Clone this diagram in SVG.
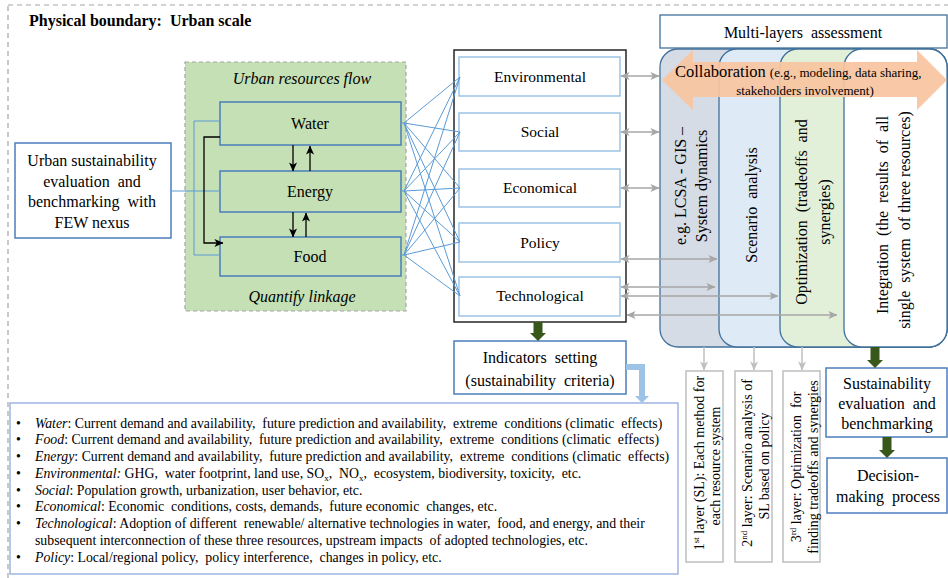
<svg xmlns="http://www.w3.org/2000/svg" width="948" height="578" viewBox="0 0 948 578" font-family="Liberation Serif, DejaVu Serif, serif">
<style>
text{font-family:"Liberation Serif","DejaVu Serif",serif;fill:#000}
.c{text-anchor:middle}
.res{fill:#c5e0b4;stroke:#4a7ebb;stroke-width:1.5}
.bb{fill:#fff;stroke:#4a7ebb;stroke-width:1.5}
.ind{fill:#fff;stroke:#9dc3e6;stroke-width:1.5}
.fan{stroke:#5b9bd5;stroke-width:1;fill:none}
.gr{stroke:#a6a6a6;stroke-width:1.5;fill:none}
.lay{stroke:#41719c;stroke-width:1.3}
.desc{fill:#fff;stroke:#bfbfbf;stroke-width:1.5}
.dg{fill:#38571a}
</style>
<defs>
<marker id="ga" viewBox="0 0 10 10" refX="9.5" refY="5" markerWidth="9" markerHeight="9" markerUnits="userSpaceOnUse" orient="auto-start-reverse"><path d="M0,0.5 L10,5 L0,9.5 L2.5,5 z" fill="#a6a6a6"/></marker>
<marker id="la" viewBox="0 0 10 10" refX="9.5" refY="5" markerWidth="9" markerHeight="9" markerUnits="userSpaceOnUse" orient="auto"><path d="M0,0.5 L10,5 L0,9.5 L2.5,5 z" fill="#bfbfbf"/></marker>
<marker id="ba" viewBox="0 0 10 10" refX="9.5" refY="5" markerWidth="9" markerHeight="9" markerUnits="userSpaceOnUse" orient="auto"><path d="M0,0.5 L10,5 L0,9.5 L2.5,5 z" fill="#000"/></marker>
</defs>

<!-- outer physical boundary -->
<rect x="8" y="5" width="960" height="600" fill="none" stroke="#a6a6a6" stroke-width="1.2" stroke-dasharray="5,4"/>
<text x="29" y="26" font-size="16" font-weight="bold" xml:space="preserve">Physical boundary:  Urban scale</text>

<!-- green flow box -->
<g id="flow">
<rect x="185" y="62" width="221" height="249" fill="#c5e0b4" stroke="#a5a5a5" stroke-width="1.2" stroke-dasharray="4,3"/>
<text x="302" y="84" class="c" font-size="16" font-style="italic">Urban resources flow</text>
<text x="302" y="302" class="c" font-size="16" font-style="italic">Quantify linkage</text>
</g>

<g id="source">
<rect class="bb" x="15" y="143" width="156" height="95"/>
<text class="c" font-size="16" xml:space="preserve"><tspan x="92" y="166">Urban sustainability</tspan><tspan x="92" y="187">evaluation  and</tspan><tspan x="92" y="207">benchmarking  with</tspan><tspan x="92" y="228">FEW nexus</tspan></text>
</g>

<g id="water"><rect class="res" x="220" y="102" width="181" height="43"/><text x="310" y="129" class="c" font-size="16">Water</text></g>
<g id="energy"><rect class="res" x="220" y="171" width="181" height="41"/><text x="310" y="197" class="c" font-size="16">Energy</text></g>
<g id="food"><rect class="res" x="220" y="237" width="181" height="39"/><text x="310" y="262" class="c" font-size="16">Food</text></g>

<g id="indicators">
<rect x="454" y="50" width="172" height="272" fill="#fff" stroke="#262626" stroke-width="1.5"/>
</g>
<g id="ind-env"><rect class="ind" x="459" y="57" width="161" height="39"/><text x="540" y="82" class="c" font-size="15.5">Environmental</text></g>
<g id="ind-soc"><rect class="ind" x="459" y="113" width="161" height="38"/><text x="540" y="137" class="c" font-size="15.5">Social</text></g>
<g id="ind-eco"><rect class="ind" x="459" y="169" width="161" height="38"/><text x="540" y="193" class="c" font-size="15.5">Economical</text></g>
<g id="ind-pol"><rect class="ind" x="459" y="223" width="161" height="39"/><text x="540" y="248" class="c" font-size="15.5">Policy</text></g>
<g id="ind-tec"><rect class="ind" x="459" y="277" width="161" height="39"/><text x="540" y="301" class="c" font-size="15.5">Technological</text></g>

<g id="setting">
<rect class="bb" x="454" y="341" width="172" height="53"/>
<text class="c" font-size="16" xml:space="preserve"><tspan x="540" y="363">Indicators  setting</tspan><tspan x="540" y="386">(sustainability  criteria)</tspan></text>
</g>

<!-- layers -->
<g id="layer1"><rect class="lay" x="660" y="49" width="287" height="298" rx="18" fill="#d6dce5"/></g>
<g id="layer2"><rect class="lay" x="719" y="49" width="228" height="298" rx="18" fill="#deebf7"/></g>
<g id="layer3"><rect class="lay" x="780" y="49" width="167" height="298" rx="18" fill="#e2f0d9"/></g>
<g id="layer4"><rect class="lay" x="844" y="49" width="103" height="298" rx="18" fill="#fff"/></g>

<g id="multi">
<rect x="660" y="15" width="287" height="33" fill="#fff" stroke="#41719c" stroke-width="1.3"/>
<text x="803" y="38" class="c" font-size="16" xml:space="preserve">Multi-layers  assessment</text>
</g>

<g id="collab">
<polygon points="662,80 693,50 693,62 917,62 917,50 947,80 917,110 917,97 693,97 693,110" fill="#f8c4a0" fill-opacity="0.92"/>
<text x="675" y="77" font-size="16.5">Collaboration <tspan font-size="13">(e.g., modeling, data sharing,</tspan></text>
<text x="805" y="95" class="c" font-size="13">stakeholders involvement)</text>
</g>

<g id="layer-texts" font-size="16">
<text class="c" transform="translate(681,186) rotate(-90)" dy="0.34em">e.g. LCSA - GIS –</text>
<text class="c" transform="translate(702,186) rotate(-90)" dy="0.34em">System dynamics</text>
<text class="c" transform="translate(752,205) rotate(-90)" dy="0.34em" xml:space="preserve">Scenario  analysis</text>
<text class="c" transform="translate(802,212) rotate(-90)" dy="0.34em" xml:space="preserve">Optimization  (tradeoffs  and</text>
<text class="c" transform="translate(825,212) rotate(-90)" dy="0.34em">synergies)</text>
<text class="c" transform="translate(883,215) rotate(-90)" dy="0.34em" xml:space="preserve">Integration  (the  results  of  all</text>
<text class="c" transform="translate(905,220) rotate(-90)" dy="0.34em" xml:space="preserve">single  system  of three resources)</text>
</g>

<g id="desc1"><rect class="desc" x="686" y="371" width="37" height="191"/>
<text class="c" font-size="14" transform="translate(699,463) rotate(-90)" dy="0.34em">1<tspan font-size="9" dy="-5">st</tspan><tspan dy="5"> layer (SL): Each method for</tspan></text>
<text class="c" font-size="14" transform="translate(715,466) rotate(-90)" dy="0.34em">each resource system</text></g>
<g id="desc2"><rect class="desc" x="735" y="371" width="37" height="191"/>
<text class="c" font-size="14" transform="translate(747,463) rotate(-90)" dy="0.34em">2<tspan font-size="9" dy="-5">nd</tspan><tspan dy="5"> layer: Scenario analysis of</tspan></text>
<text class="c" font-size="14" transform="translate(764,466) rotate(-90)" dy="0.34em">SL based on policy</text></g>
<g id="desc3"><rect class="desc" x="783" y="371" width="37" height="191"/>
<text class="c" font-size="14" transform="translate(796,467) rotate(-90)" dy="0.34em" xml:space="preserve">3<tspan font-size="9" dy="-5">rd</tspan><tspan dy="5"> layer: Optimization  for</tspan></text>
<text class="c" font-size="14" transform="translate(813,467) rotate(-90)" dy="0.34em">finding tradeoffs and synergies</text></g>

<g id="sust">
<rect class="bb" x="826" y="368" width="121" height="69"/>
<text class="c" font-size="16" xml:space="preserve"><tspan x="887" y="389">Sustainability</tspan><tspan x="887" y="409">evaluation  and</tspan><tspan x="887" y="429">benchmarking</tspan></text>
</g>
<g id="decision">
<rect class="bb" x="827" y="458" width="120" height="55"/>
<text class="c" font-size="16" xml:space="preserve"><tspan x="888" y="481">Decision-</tspan><tspan x="888" y="502">making  process</tspan></text>
</g>

<g id="legend">
<rect x="10" y="403" width="668" height="171" fill="#fff" stroke="#8faadc" stroke-width="1.3"/>
<g font-size="13.8">
<text x="16" y="427.6">•</text><text x="16" y="444.4">•</text><text x="16" y="461.1">•</text><text x="16" y="477.9">•</text><text x="16" y="494.6">•</text><text x="16" y="511.4">•</text><text x="16" y="528.1">•</text><text x="16" y="561.6">•</text>
<text x="35" y="427.6" xml:space="preserve"><tspan font-style="italic">Water</tspan>: Current demand and availability,  future prediction and availability,  extreme  conditions (climatic  effects)</text>
<text x="35" y="444.4" xml:space="preserve"><tspan font-style="italic">Food</tspan>: Current demand and availability,  future prediction and availability,  extreme  conditions (climatic  effects)</text>
<text x="35" y="461.1" xml:space="preserve"><tspan font-style="italic">Energy</tspan>: Current demand and availability,  future prediction and availability,  extreme  conditions (climatic  effects)</text>
<text x="35" y="477.9" xml:space="preserve"><tspan font-style="italic">Environmental:</tspan> GHG,  water footprint, land use, SO<tspan font-size="9" dy="3">x</tspan><tspan dy="-3">,  NO</tspan><tspan font-size="9" dy="3">x</tspan><tspan dy="-3">,  ecosystem, biodiversity, toxicity,  etc.</tspan></text>
<text x="35" y="494.6"><tspan font-style="italic">Social</tspan>: Population growth, urbanization, user behavior, etc.</text>
<text x="35" y="511.4" xml:space="preserve"><tspan font-style="italic">Economical</tspan>: Economic  conditions, costs, demands,  future economic  changes, etc.</text>
<text x="35" y="528.1" xml:space="preserve"><tspan font-style="italic">Technological</tspan>: Adoption of different  renewable/ alternative technologies in water,  food, and energy, and their</text>
<text x="35" y="544.9" xml:space="preserve">subsequent interconnection of these three resources, upstream impacts  of adopted technologies, etc.</text>
<text x="35" y="561.6" xml:space="preserve"><tspan font-style="italic">Policy</tspan>: Local/regional policy,  policy interference,  changes in policy, etc.</text>
</g>
</g>

<g id="connectors">
<path class="fan" d="M171,191 H220"/>
<path class="fan" d="M220,121 H194 V255 H220"/>
<path d="M220,137 H204 V243 H223" fill="none" stroke="#000" stroke-width="1.3" marker-end="url(#ba)"/>
<path d="M293,145 V171" stroke="#000" stroke-width="1.3" marker-end="url(#ba)"/>
<path d="M310,171 V146" stroke="#000" stroke-width="1.3" marker-end="url(#ba)"/>
<path d="M293,212 V237" stroke="#000" stroke-width="1.3" marker-end="url(#ba)"/>
<path d="M306,237 V213" stroke="#000" stroke-width="1.3" marker-end="url(#ba)"/>
<g class="fan">
<path d="M401,123 H404 L460,77 M404,123 L460,132 M404,123 L460,188 M404,123 L460,242 M404,123 L460,296"/>
<path d="M401,191 H404 L460,77 M404,191 L460,132 M404,191 L460,188 M404,191 L460,242 M404,191 L460,296"/>
<path d="M401,255 H404 L460,77 M404,255 L460,132 M404,255 L460,188 M404,255 L460,242 M404,255 L460,296"/>
</g>
<path class="gr" d="M621,76 H659" marker-start="url(#ga)" marker-end="url(#ga)"/>
<path class="gr" d="M621,132 H659" marker-start="url(#ga)" marker-end="url(#ga)"/>
<path class="gr" d="M621,188 H659" marker-start="url(#ga)" marker-end="url(#ga)"/>
<path class="gr" d="M621,259 H717" marker-start="url(#ga)" marker-end="url(#ga)"/>
<path class="gr" d="M621,287 H715" marker-start="url(#ga)" marker-end="url(#ga)"/>
<path class="gr" d="M621,296 H778" marker-start="url(#ga)" marker-end="url(#ga)"/>
<path class="gr" d="M627,315 H837" marker-start="url(#ga)" marker-end="url(#ga)"/>
<path d="M704,347 V370" stroke="#bfbfbf" stroke-width="1.5" marker-end="url(#la)"/>
<path d="M754,347 V370" stroke="#bfbfbf" stroke-width="1.5" marker-end="url(#la)"/>
<path d="M802,347 V370" stroke="#bfbfbf" stroke-width="1.5" marker-end="url(#la)"/>
<polygon class="dg" points="533.5,322 542.5,322 542.5,333 546,333 538,341 530,333 533.5,333"/>
<polygon class="dg" points="870.5,347 879.5,347 879.5,360 883,360 875,368 867,360 870.5,360"/>
<polygon class="dg" points="882.5,437 891.5,437 891.5,450 895,450 887,458 879,450 882.5,450"/>
<polygon points="626,364 645,364 645,396 649,396 642,403 635,396 639,396 639,370 626,370" fill="#9dc3e6"/>
</g>
</svg>
